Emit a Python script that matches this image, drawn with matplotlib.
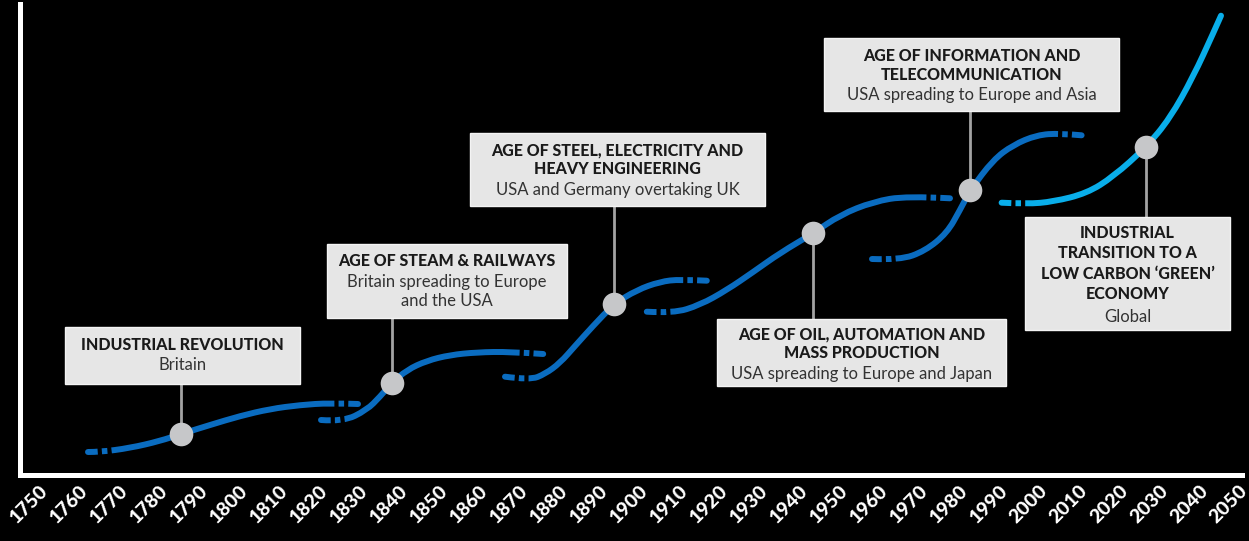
import numpy as np
import matplotlib.pyplot as plt
import matplotlib.transforms as mtransforms
from matplotlib.path import Path
from matplotlib.patches import PathPatch, Rectangle

plt.rcParams['lines.scale_dashes'] = False

# waves of industrial development: (year, level) points along each curve
wave1_year = [1762, 1765, 1772.5, 1780, 1785.25, 1792.5, 1800, 1807.5, 1815, 1822.5, 1829.5]
wave1_level = [23, 23, 27, 34, 41, 50, 59, 66, 70, 72, 71]

wave2_year = [1820.25, 1825.75, 1831.7, 1835, 1837.9, 1841.7, 1846.7, 1852.5, 1859.2, 1867.5, 1875.8]
wave2_level = [55, 53.3, 65, 78.3, 91.7, 105, 114.3, 120, 122.7, 123.3, 121]

wave3_year = [1866.25, 1872.5, 1876.25, 1880, 1883.75, 1888.25, 1893.5, 1899.2, 1905, 1910, 1916.7]
wave3_level = [98.3, 95, 101, 112, 129, 149, 171, 185, 193.3, 195.7, 194.3]

wave4_year = [1901.7, 1908.3, 1915, 1921.7, 1928.3, 1935, 1943.3, 1950, 1958.3, 1966.7, 1977.5]
wave4_level = [163.3, 161.7, 170, 185, 203, 222, 241.7, 260, 273.3, 279, 276.7]

wave5_year = [1958, 1965, 1971.25, 1976.75, 1980, 1982.6, 1988.25, 1993.25, 1999.2, 2005, 2010.4]
wave5_level = [216, 215, 224, 242, 265, 285, 315, 330, 340, 341.7, 339.7]

wave6_year = [1990.4, 1996.7, 2003.3, 2011.7, 2018.3, 2026.5, 2032.5, 2038.3, 2043.3, 2045.25]
wave6_level = [272.3, 271, 273.3, 281.7, 298.3, 327.7, 356.7, 398.3, 441.7, 459.3]

# milestone markers on each wave
mark_year = [1785.25, 1837.9, 1893.5, 1943.3, 1982.6, 2026.5]
mark_level = [41, 91.7, 171, 241.7, 285, 327.7]

titles = [
    ["INDUSTRIAL REVOLUTION"],
    ["AGE OF STEAM & RAILWAYS"],
    ["AGE OF STEEL, ELECTRICITY AND", "HEAVY ENGINEERING"],
    ["AGE OF OIL, AUTOMATION AND", "MASS PRODUCTION"],
    ["AGE OF INFORMATION AND", "TELECOMMUNICATION"],
    ["INDUSTRIAL", "TRANSITION TO A", "LOW CARBON \u2018GREEN\u2019", "ECONOMY"],
]
subtitles = [
    ["Britain"],
    ["Britain spreading to Europe", "and the USA"],
    ["USA and Germany overtaking UK"],
    ["USA spreading to Europe and Japan"],
    ["USA spreading to Europe and Asia"],
    ["Global"],
]

tick_years = list(range(1750, 2051, 10))

W, H = 1249, 541
fig = plt.figure(figsize=(W / 100, H / 100), dpi=100, facecolor='black')
ax = fig.add_axes([19.5 / W, (H - 475) / H, (1242 - 19.5) / W, (475 - 4) / H])
ax.set_facecolor('black')
ax.set_xlim(1744.875, 2050.5)
ax.set_ylim(0, 471)


# pixel layout helpers for the label boxes
def X(px):
    return 1750 + (px - 40) / 4


def Y(py):
    return 475 - py


def smooth_path(xs, ys):
    pts = np.column_stack([xs, ys])
    verts = [pts[0]]
    codes = [Path.MOVETO]
    for i in range(1, len(pts) - 2):
        verts += [pts[i], (pts[i] + pts[i + 1]) / 2]
        codes += [Path.CURVE3, Path.CURVE3]
    verts += [pts[-2], pts[-1]]
    codes += [Path.CURVE3, Path.CURVE3]
    return Path(verts, codes)


dark_blue = '#0a6cc0'
light_blue = '#09aeea'
gaps = (1003, (3, 4, 3, 1000))

waves = [(wave1_year, wave1_level, dark_blue, True),
         (wave2_year, wave2_level, dark_blue, True),
         (wave3_year, wave3_level, dark_blue, True),
         (wave4_year, wave4_level, dark_blue, True),
         (wave5_year, wave5_level, dark_blue, True),
         (wave6_year, wave6_level, light_blue, False)]

for xs, ys, col, dashed_end in waves:
    ax.add_patch(PathPatch(smooth_path(xs, ys), fill=False, edgecolor=col,
                           lw=4.3, capstyle='round', zorder=2))
    # broken ends
    ax.add_patch(PathPatch(smooth_path(xs, ys), fill=False, edgecolor='black',
                           lw=6.5, capstyle='butt', linestyle=gaps, zorder=3))
    if dashed_end:
        ax.add_patch(PathPatch(smooth_path(xs[::-1], ys[::-1]), fill=False,
                               edgecolor='black', lw=6.5, capstyle='butt',
                               linestyle=gaps, zorder=3))

# label boxes: (left, right, top, bottom) px, line y positions px
boxes = [
    ((65, 300, 327, 384), [345], [365]),
    ((327, 567, 244, 318), [261.5], [281.5, 301]),
    ((470, 765, 133, 206), [150, 169.5], [189.5]),
    ((717, 1006, 319, 386), [334, 353.5], [373.5]),
    ((824, 1119, 38, 111), [56, 75.5], [95]),
    ((1025, 1230, 217, 330), [233.5, 253.5, 274, 294], [316.5]),
]

for i, ((l, r, t, b), ty, sy) in enumerate(boxes):
    ax.add_patch(Rectangle((X(l), Y(b)), X(r) - X(l), Y(t) - Y(b),
                           facecolor='#e6e6e6', edgecolor='#f4f4f4', lw=1, zorder=5))
    cx = X((l + r) / 2)
    for line, yy in zip(titles[i], ty):
        ax.text(cx, Y(yy), line, ha='center', va='center', fontsize=11.5,
                family='Lato', fontweight='black', color='#1a1a1a', zorder=6)
    for line, yy in zip(subtitles[i], sy):
        ax.text(cx, Y(yy), line, ha='center', va='center', fontsize=12,
                family='Lato', color='#333333', zorder=6)
    # connector from box to milestone
    edge = Y(b) if Y(b) > mark_level[i] else Y(t)
    ax.plot([mark_year[i], mark_year[i]], [mark_level[i], edge],
            color='#a3a3a3', lw=2, zorder=4, solid_capstyle='butt')

ax.plot(mark_year, mark_level, 'o', ms=17, color='#c6c7c9', mec='none', zorder=7)

for side in ['top', 'right']:
    ax.spines[side].set_visible(False)
for side in ['left', 'bottom']:
    ax.spines[side].set_color('white')
    ax.spines[side].set_linewidth(3.6)
ax.set_yticks([])
ax.set_xticks(tick_years)
ax.set_xticklabels([str(y) for y in tick_years], rotation=45, ha='right',
                   rotation_mode='anchor', color='white', fontsize=14,
                   fontweight='black', family='Lato')
ax.tick_params(axis='x', length=0, pad=5)
shift = mtransforms.ScaledTranslation(-1 / 100, 0, fig.dpi_scale_trans)
for lab in ax.get_xticklabels():
    lab.set_transform(lab.get_transform() + shift)

fig.savefig('out.png', dpi=100, facecolor='black')
